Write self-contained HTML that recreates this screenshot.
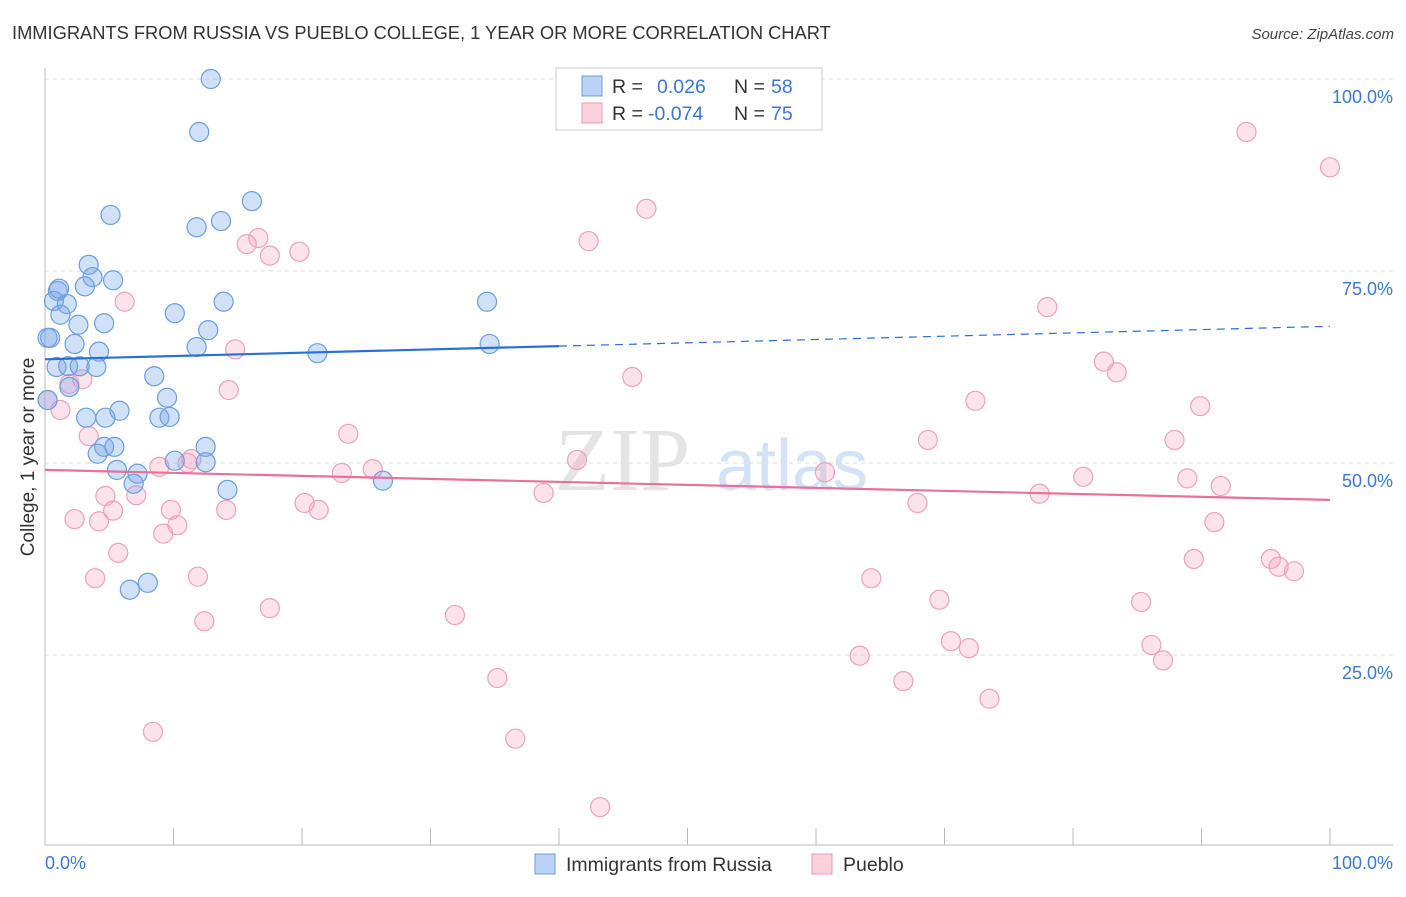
<!DOCTYPE html>
<html><head><meta charset="utf-8"><style>
body{margin:0;background:#fff;font-family:"Liberation Sans",sans-serif;}
</style></head><body>
<svg id="chart" width="1406" height="892" xmlns="http://www.w3.org/2000/svg" font-family="Liberation Sans, sans-serif">
<text x="12" y="39" font-size="18.3" fill="#333">IMMIGRANTS FROM RUSSIA VS PUEBLO COLLEGE, 1 YEAR OR MORE CORRELATION CHART</text>
<text x="1394" y="39" font-size="15" fill="#444" font-style="italic" text-anchor="end">Source: ZipAtlas.com</text>
<text transform="translate(34,457) rotate(-90)" font-size="19" fill="#333" text-anchor="middle">College, 1 year or more</text>
<g><text x="555" y="490" font-size="90" fill="#e4e4e4" font-family="Liberation Serif, serif">ZIP</text><text x="716" y="490" font-size="72" fill="#d4e2f6">atlas</text></g>
<g id="grid"></g>
<g id="axes"></g>
<g id="pts"></g>
<g id="trends"></g>
<g>
<rect x="556" y="68" width="266" height="62" fill="#fff" stroke="#ccc"/>
<rect x="582" y="76" width="20" height="20" fill="#b9d2f5" stroke="#6a9fe0"/>
<text x="612" y="93" font-size="19.5" fill="#333">R = </text><text x="657" y="93" font-size="19.5" fill="#3a78d4">0.026</text>
<text x="734" y="93" font-size="19.5" fill="#333">N = </text><text x="771" y="93" font-size="19.5" fill="#3a78d4">58</text>
<rect x="582" y="103" width="20" height="20" fill="#fbd0dd" stroke="#ee9ab6"/>
<text x="612" y="120" font-size="19.5" fill="#333">R = </text><text x="648" y="120" font-size="19.5" fill="#3a78d4">-0.074</text>
<text x="734" y="120" font-size="19.5" fill="#333">N = </text><text x="771" y="120" font-size="19.5" fill="#3a78d4">75</text>
</g>
<g>
<rect x="535" y="854" width="20" height="20" fill="#b9d2f5" stroke="#6a9fe0"/>
<text x="566" y="871" font-size="19.5" fill="#333">Immigrants from Russia</text>
<rect x="812" y="854" width="20" height="20" fill="#fbd0dd" stroke="#ee9ab6"/>
<text x="843" y="871" font-size="19.5" fill="#333">Pueblo</text>
</g>
</svg>
<script>
const yTicks=[25,50,75,100];
const yTickLabels=["25.0%","50.0%","75.0%","100.0%"];
const xTickLabels=["0.0%","100.0%"];
const russiaX=[12.9,12.0,16.1,5.1,13.7,11.8,3.4,3.7,5.3,3.1,1.0,0.7,1.7,13.9,34.4,1.2,10.1,4.6,2.6,12.7,0.4,2.3,11.8,21.2,4.2,34.6,0.9,1.8,2.7,4.0,8.5,1.9,9.5,5.8,3.2,4.7,8.9,9.7,4.6,5.4,12.5,4.1,5.6,7.2,10.1,12.5,6.9,26.3,14.2,8.0,6.6,0.2,0.2,1.1];
const russiaY=[100.0,93.1,84.1,82.3,81.5,80.7,75.8,74.2,73.8,73.0,72.4,71.1,70.7,71.0,71.0,69.3,69.5,68.2,68.0,67.3,66.3,65.5,65.1,64.3,64.5,65.5,62.5,62.6,62.6,62.5,61.3,59.9,58.5,56.8,55.9,55.9,55.9,56.0,52.1,52.1,52.1,51.2,49.1,48.6,50.3,50.1,47.3,47.7,46.5,34.4,33.5,66.3,58.2,72.7];
const puebloX=[93.5,100.0,46.8,42.3,16.6,15.7,17.5,19.8,6.2,78.0,14.8,82.4,83.4,45.7,2.9,1.9,14.3,72.4,89.9,1.2,0.2,3.4,23.6,87.9,68.7,41.4,11.4,11.1,8.9,25.5,23.1,60.7,80.8,88.9,91.5,38.8,77.4,4.7,7.1,20.2,67.9,21.3,5.3,9.8,14.1,2.3,4.2,91.0,10.3,9.2,5.7,89.4,95.4,96.0,97.2,3.9,11.9,64.3,69.6,85.3,17.5,31.9,12.4,70.5,71.9,86.1,87.0,63.4,35.2,66.8,73.5,8.4,36.6,43.2];
const puebloY=[93.1,88.5,83.1,78.9,79.3,78.5,77.0,77.5,71.0,70.3,64.8,63.2,61.8,61.2,60.9,60.3,59.5,58.1,57.4,56.9,58.2,53.5,53.8,53.0,53.0,50.4,50.5,50.0,49.5,49.2,48.7,48.8,48.2,48.0,47.0,46.1,46.0,45.7,45.8,44.8,44.8,43.9,43.8,43.9,43.9,42.7,42.4,42.3,41.9,40.8,38.3,37.5,37.5,36.5,35.9,35.0,35.2,35.0,32.2,31.9,31.1,30.2,29.4,26.8,25.9,26.3,24.3,24.9,22.0,21.6,19.3,15.0,14.1,5.2];
const russiaTrend=[63.5,67.8];
const puebloTrend=[49.1,45.2];
const NS="http://www.w3.org/2000/svg";
const X0=45,X1=1330,Y0=847,Y1=79;
function sx(v){return X0+(X1-X0)*v/100;}
function sy(v){return Y0-(Y0-Y1)*v/100;}
function mk(t,a,p){const e=document.createElementNS(NS,t);for(const k in a)e.setAttribute(k,a[k]);p.appendChild(e);return e;}
const grid=document.getElementById('grid'),axes=document.getElementById('axes'),pts=document.getElementById('pts'),tr=document.getElementById('trends');
yTicks.forEach((t,i)=>{
 const l=mk('line',{x1:X0,x2:1393,y1:sy(t),y2:sy(t),stroke:'#ddd','stroke-dasharray':'4,4'},grid);
 
 
 const tx=mk('text',{x:1393,y:sy(t)+24,'font-size':18,fill:'#3a78d4','text-anchor':'end'},axes);
 tx.textContent=yTickLabels[i];
 
 
});
mk('line',{x1:X0,x2:X0,y1:68,y2:845,stroke:'#bbb'},axes);
mk('line',{x1:X0,x2:1393,y1:845,y2:845,stroke:'#bbb'},axes);
for(let i=0;i<=10;i++){mk('line',{x1:sx(i*10),x2:sx(i*10),y1:828,y2:845,stroke:'#bbb'},axes);}
const xl0=mk('text',{x:45,y:869,'font-size':18,fill:'#3a78d4'},axes);xl0.textContent=xTickLabels[0];


const xl1=mk('text',{x:1393,y:869,'font-size':18,fill:'#3a78d4','text-anchor':'end'},axes);xl1.textContent=xTickLabels[1];


puebloX.forEach((x,i)=>{
 const c=mk('circle',{cx:sx(x),cy:sy(puebloY[i]),r:9.5,fill:'rgba(245,160,190,0.3)',stroke:'#f0a0bc','stroke-width':1.2},pts);
 
 
});
russiaX.forEach((x,i)=>{
 const c=mk('circle',{cx:sx(x),cy:sy(russiaY[i]),r:9.5,fill:'rgba(120,165,230,0.35)',stroke:'#6a9fe0','stroke-width':1.2},pts);
 
 
});
function ry(x){return russiaTrend[0]+(russiaTrend[1]-russiaTrend[0])*x/100;}
const b1=mk('line',{x1:sx(0),y1:sy(ry(0)),x2:sx(40),y2:sy(ry(40)),stroke:'#2a6fd6','stroke-width':2.2},tr);


const b2=mk('line',{x1:sx(40),y1:sy(ry(40)),x2:sx(100),y2:sy(ry(100)),stroke:'#2a6fd6','stroke-width':1.2,'stroke-dasharray':'8,6'},tr);


const p1=mk('line',{x1:sx(0),y1:sy(puebloTrend[0]),x2:sx(100),y2:sy(puebloTrend[1]),stroke:'#e8709a','stroke-width':2.2},tr);


</script>
</body></html>
